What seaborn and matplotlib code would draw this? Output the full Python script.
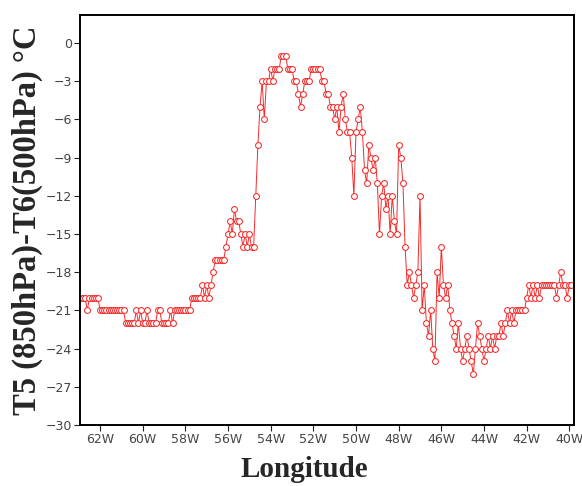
import numpy as np
import pandas as pd
import matplotlib
matplotlib.use("Agg")
import matplotlib.pyplot as plt
import seaborn as sns

# Longitude grid (degrees east, negative = west), 0.1 degree spacing
lon_start = -62.9
lon_step = 0.1

# T(850 hPa) - T(500 hPa) along the transect, degC
temp_diff = [
    -20, -20, -20, -21, -20, -20, -20, -20, -20, -21,
    -21, -21, -21, -21, -21, -21, -21, -21, -21, -21,
    -21, -22, -22, -22, -22, -22, -21, -22, -21, -22,
    -22, -21, -22, -22, -22, -22, -21, -21, -22, -22,
    -22, -22, -21, -22, -21, -21, -21, -21, -21, -21,
    -21, -21, -20, -20, -20, -20, -20, -19, -20, -19,
    -20, -19, -18, -17, -17, -17, -17, -17, -16, -15,
    -14, -15, -13, -14, -14, -15, -16, -15, -16, -15,
    -16, -16, -12, -8, -5, -3, -6, -3, -3, -2,
    -3, -2, -2, -2, -1, -1, -1, -2, -2, -2,
    -3, -3, -4, -5, -4, -3, -3, -3, -2, -2,
    -2, -2, -2, -3, -3, -4, -4, -5, -5, -6,
    -5, -7, -5, -4, -6, -7, -7, -9, -12, -7,
    -6, -5, -7, -10, -11, -8, -9, -10, -9, -11,
    -15, -12, -11, -13, -12, -15, -12, -14, -15, -8,
    -9, -11, -16, -19, -18, -19, -20, -19, -18, -12,
    -21, -19, -22, -23, -21, -24, -25, -18, -20, -16,
    -19, -20, -19, -21, -22, -23, -24, -22, -24, -25,
    -24, -23, -24, -25, -26, -24, -22, -23, -24, -25,
    -24, -23, -24, -23, -24, -23, -23, -22, -23, -22,
    -21, -22, -21, -22, -21, -21, -21, -21, -21, -20,
    -19, -20, -19, -20, -19, -20, -19, -19, -19, -19,
    -19, -19, -19, -20, -19, -18, -19, -19, -20, -19,
    -19,
]

lon = [round(lon_start + lon_step * k, 2) for k in range(len(temp_diff))]
df = pd.DataFrame({"lon": lon, "dT": temp_diff})

x_ticks = list(range(-62, -39, 2))
x_tick_labels = [f"{abs(t)}W" for t in x_ticks]
y_ticks = list(range(-30, 1, 3))

sns.set_style("ticks")
plt.rcParams["font.family"] = ["DejaVu Sans"]

fig = plt.figure(figsize=(5.82, 4.86), dpi=100)
ax = fig.add_axes([0.1375, 0.1255, 0.848, 0.8435])

sns.lineplot(
    data=df, x="lon", y="dT", ax=ax, sort=False,
    color="#f52a2a", linewidth=0.7,
    marker="o", markersize=4.2, markerfacecolor="white",
    markeredgecolor="#f52a2a", markeredgewidth=0.75,
)

ax.set_xlim(-62.94, -39.8)
ax.set_ylim(-30, 2.2)
ax.set_xticks(x_ticks)
ax.set_xticklabels(x_tick_labels)
ax.set_yticks(y_ticks)
ax.set_yticklabels([str(t).replace("-", "\u2212") for t in y_ticks])

ax.tick_params(axis="both", direction="out", length=4, width=0.8,
               labelsize=9, colors="#222222", labelcolor="#444444", pad=2)
for side in ax.spines.values():
    side.set_linewidth(1.4)
    side.set_color("black")

serif_bold = dict(family=["Liberation Serif", "DejaVu Serif"], weight="bold")
ax.set_xlabel("Longitude", fontsize=21, labelpad=6, **serif_bold)
ax.xaxis.set_label_coords(0.455, -0.075)
ax.set_ylabel("T5 (850hPa)-T6(500hPa) \u00b0C", fontsize=23.5, labelpad=2, **serif_bold)

fig.savefig("out.png", dpi=100)
